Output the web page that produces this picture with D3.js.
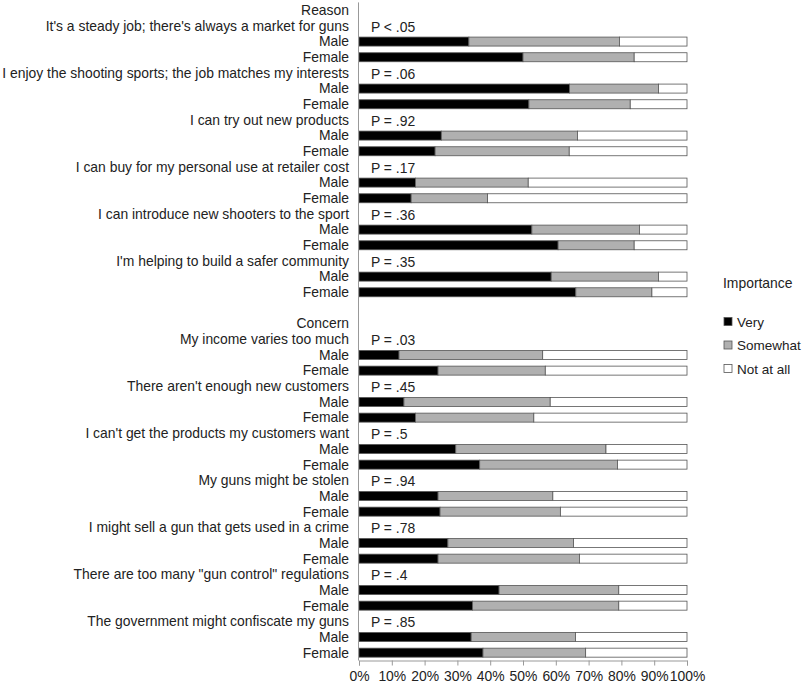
<!DOCTYPE html>
<html>
<head>
<meta charset="utf-8">
<script src="https://cdn.jsdelivr.net/npm/d3@7"></script>
<style>
  body { margin: 0; background: #fff; }
  text { font-family: "Liberation Sans", Arial, Helvetica, sans-serif; fill: #222; }
</style>
</head>
<body>
<div id="chart"></div>
<script>
// Data: percentages (Very, Somewhat, Not at all) per group
const reasons = [
  "It's a steady job; there's always a market for guns",
  "I enjoy the shooting sports; the job matches my interests",
  "I can try out new products",
  "I can buy for my personal use at retailer cost",
  "I can introduce new shooters to the sport",
  "I'm helping to build a safer community"
];
const reasonP = ["P < .05", "P = .06", "P = .92", "P = .17", "P = .36", "P = .35"];
const reasonMale = [[33.5, 45.9, 20.6], [64.2, 27.1, 8.7], [25.1, 41.5, 33.4], [17.2, 34.4, 48.4], [52.7, 32.8, 14.5], [58.6, 32.7, 8.7]];
const reasonFemale = [[50.0, 33.9, 16.1], [51.8, 30.9, 17.3], [23.2, 40.9, 35.9], [15.9, 23.3, 60.8], [60.7, 23.2, 16.1], [66.1, 23.2, 10.7]];

const concerns = [
  "My income varies too much",
  "There aren't enough new customers",
  "I can't get the products my customers want",
  "My guns might be stolen",
  "I might sell a gun that gets used in a crime",
  "There are too many \"gun control\" regulations",
  "The government might confiscate my guns"
];
const concernP = ["P = .03", "P = .45", "P = .5", "P = .94", "P = .78", "P = .4", "P = .85"];
const concernMale = [[12.2, 43.8, 44.0], [13.7, 44.6, 41.7], [29.5, 45.8, 24.7], [24.1, 35.0, 40.9], [27.1, 38.3, 34.6], [42.7, 36.5, 20.8], [34.2, 31.8, 34.0]];
const concernFemale = [[24.1, 32.7, 43.2], [17.2, 36.1, 46.7], [36.8, 42.0, 21.2], [24.7, 36.7, 38.6], [24.1, 43.1, 32.8], [34.6, 44.6, 20.8], [37.8, 31.3, 30.9]];

const levels = ["Very", "Somewhat", "Not at all"];
const levelColors = ["#000000", "#b0b0b0", "#ffffff"];
const xTicks = [0, 10, 20, 30, 40, 50, 60, 70, 80, 90, 100];

// Build row list
const rows = [];
function addSection(title, labels, pvals, male, female) {
  rows.push({ type: 'header', label: title });
  labels.forEach((l, i) => {
    rows.push({ type: 'item', label: l, p: pvals[i] });
    rows.push({ type: 'bar', label: 'Male', values: male[i] });
    rows.push({ type: 'bar', label: 'Female', values: female[i] });
  });
}
addSection('Reason', reasons, reasonP, reasonMale, reasonFemale);
rows.push({ type: 'blank', label: '' });
addSection('Concern', concerns, concernP, concernMale, concernFemale);
rows.forEach((r, i) => (r.id = 'r' + i));

const width = 805;
const height = 688;
const margin = { left: 359, right: 118, top: 2.4, bottom: 27.5 };
const fontSize = '13.9px';

const svg = d3.select('#chart').append('svg').attr('width', width).attr('height', height);

const x = d3.scaleLinear().domain([0, 100]).range([margin.left, width - margin.right]);
const y = d3.scaleBand().domain(rows.map((r) => r.id)).range([margin.top, height - margin.bottom]);
const barH = 9;

// Row labels
svg.append('g')
  .selectAll('text')
  .data(rows)
  .enter()
  .append('text')
  .attr('x', 349)
  .attr('y', (d) => y(d.id) + y.bandwidth() / 2)
  .attr('dy', '0.35em')
  .attr('text-anchor', 'end')
  .style('font-size', fontSize)
  .text((d) => d.label);

// P values
svg.append('g')
  .selectAll('text')
  .data(rows.filter((r) => r.type === 'item'))
  .enter()
  .append('text')
  .attr('x', x(0) + 12)
  .attr('y', (d) => y(d.id) + y.bandwidth() / 2 + 1)
  .attr('dy', '0.35em')
  .style('font-size', fontSize)
  .text((d) => d.p);

// Stacked bars
const barRows = rows.filter((r) => r.type === 'bar');
const stackData = barRows.map((r) => ({ id: r.id, Very: r.values[0], Somewhat: r.values[1], 'Not at all': r.values[2] }));
const series = d3.stack().keys(levels)(stackData);

svg.append('g')
  .selectAll('g')
  .data(series)
  .enter()
  .append('g')
  .attr('fill', (d, i) => levelColors[i])
  .selectAll('rect')
  .data((d) => d)
  .enter()
  .append('rect')
  .attr('x', (d) => x(d[0]))
  .attr('y', (d) => y(d.data.id) + (y.bandwidth() - barH) / 2)
  .attr('width', (d) => x(d[1]) - x(d[0]))
  .attr('height', barH)
  .attr('stroke', '#555')
  .attr('stroke-width', 0.8);

// Axes
svg.append('line')
  .attr('x1', x(0) - 0.5)
  .attr('x2', x(0) - 0.5)
  .attr('y1', margin.top)
  .attr('y2', height - margin.bottom)
  .attr('stroke', '#999');

const xAxis = svg.append('g')
  .attr('transform', `translate(0, ${height - margin.bottom})`)
  .call(d3.axisBottom(x).tickValues(xTicks).tickSize(5).tickPadding(6).tickFormat((d) => d + '%'));
xAxis.select('.domain').attr('stroke', '#999');
xAxis.selectAll('.tick line').attr('stroke', '#999');
xAxis.selectAll('text').style('font-size', fontSize).style('font-family', '"Liberation Sans", Arial, sans-serif').attr('fill', '#222');

// Legend
const legend = svg.append('g').attr('transform', 'translate(723, 283)');
legend.append('text').attr('x', 0).attr('y', 0).attr('dy', '0.35em').style('font-size', fontSize).text('Importance');

const items = legend.selectAll('g.item')
  .data(levels)
  .enter()
  .append('g')
  .attr('class', 'item')
  .attr('transform', (d, i) => `translate(0, ${39 + i * 23.5})`);
items.append('rect')
  .attr('x', 1)
  .attr('y', -4.5)
  .attr('width', 8)
  .attr('height', 8)
  .attr('fill', (d, i) => levelColors[i])
  .attr('stroke', '#555')
  .attr('stroke-width', 0.8);
items.append('text')
  .attr('x', 14)
  .attr('y', 0)
  .attr('dy', '0.35em')
  .style('font-size', '13.5px')
  .text((d) => d);
</script>
</body>
</html>
